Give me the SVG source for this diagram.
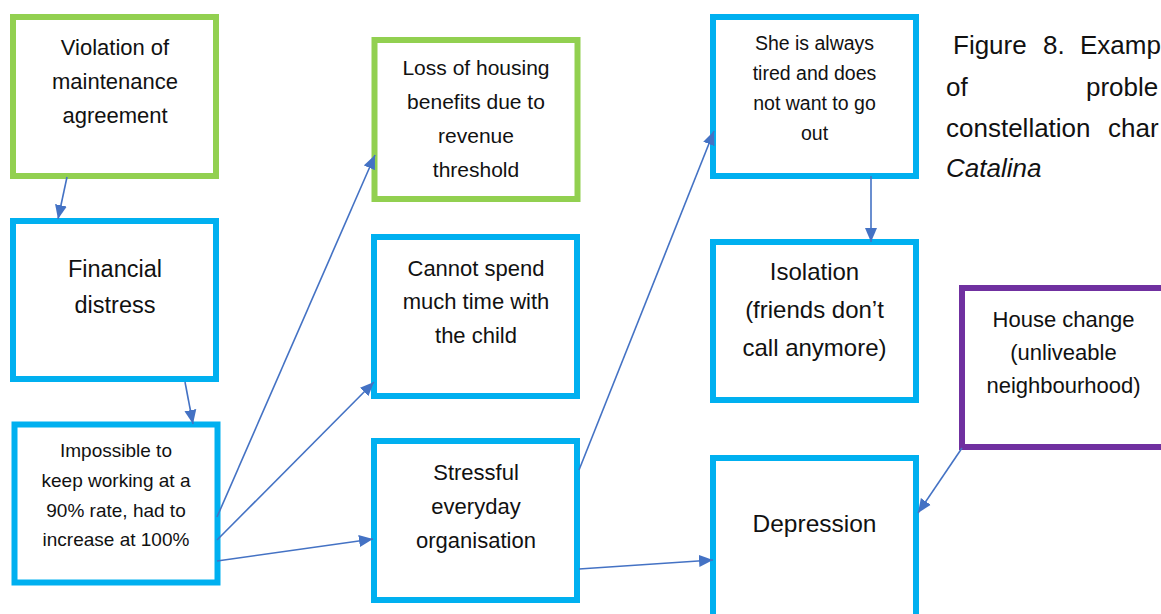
<svg xmlns="http://www.w3.org/2000/svg" width="1161" height="614" viewBox="0 0 1161 614">
<style>
  .box{fill:#fff;stroke-width:6}
  .g{stroke:#92D050}
  .b{stroke:#00B0F0}
  .p{stroke:#7030A0}
  text{font-family:"Liberation Sans",Arial,sans-serif;fill:#111;text-anchor:middle}
  .cap{text-anchor:start;font-size:26px}
  .conn line{stroke:#4472C4;stroke-width:1.6;fill:none;marker-end:url(#ah)}
</style>
<defs>
  <marker id="ah" markerUnits="userSpaceOnUse" markerWidth="15" markerHeight="13" refX="14" refY="6.5" orient="auto">
    <path d="M0,0.5 L14,6.5 L0,12.5 z" fill="#4472C4"/>
  </marker>
</defs>
<rect width="1161" height="614" fill="#fff"/>

<g id="violation">
  <rect class="box g" x="13" y="17" width="203" height="159"/>
  <text font-size="22"><tspan x="115" y="55">Violation of</tspan><tspan x="115" y="89">maintenance</tspan><tspan x="115" y="123">agreement</tspan></text>
</g>
<g id="financial">
  <rect class="box b" x="13" y="221" width="203" height="158"/>
  <text font-size="23.5"><tspan x="115" y="277">Financial</tspan><tspan x="115" y="313">distress</tspan></text>
</g>
<g id="impossible">
  <rect class="box b" x="14.5" y="424.5" width="203" height="158"/>
  <text font-size="19"><tspan x="116" y="457">Impossible to</tspan><tspan x="116" y="487">keep working at a</tspan><tspan x="116" y="517">90% rate, had to</tspan><tspan x="116" y="546">increase at 100%</tspan></text>
</g>
<g id="loss">
  <rect class="box g" x="374.5" y="40" width="203" height="159"/>
  <text font-size="21"><tspan x="476" y="75">Loss of housing</tspan><tspan x="476" y="109">benefits due to</tspan><tspan x="476" y="143">revenue</tspan><tspan x="476" y="177">threshold</tspan></text>
</g>
<g id="cannot">
  <rect class="box b" x="374" y="237" width="203" height="159"/>
  <text font-size="22"><tspan x="476" y="276">Cannot spend</tspan><tspan x="476" y="309">much time with</tspan><tspan x="476" y="343">the child</tspan></text>
</g>
<g id="stressful">
  <rect class="box b" x="374" y="441" width="203" height="159"/>
  <text font-size="22"><tspan x="476" y="480">Stressful</tspan><tspan x="476" y="514">everyday</tspan><tspan x="476" y="548">organisation</tspan></text>
</g>
<g id="tired">
  <rect class="box b" x="713" y="17" width="203" height="159"/>
  <text font-size="19.5"><tspan x="814.5" y="50">She is always</tspan><tspan x="814.5" y="80">tired and does</tspan><tspan x="814.5" y="110">not want to go</tspan><tspan x="814.5" y="140">out</tspan></text>
</g>
<g id="isolation">
  <rect class="box b" x="713" y="242" width="203" height="158"/>
  <text font-size="24"><tspan x="814.5" y="280">Isolation</tspan><tspan x="814.5" y="318">(friends don’t</tspan><tspan x="814.5" y="356">call anymore)</tspan></text>
</g>
<g id="depression">
  <rect class="box b" x="713" y="458" width="203" height="170"/>
  <text font-size="24.5"><tspan x="814.5" y="532">Depression</tspan></text>
</g>
<g id="house">
  <rect class="box p" x="962" y="288" width="210" height="159"/>
  <text font-size="22"><tspan x="1063.5" y="327">House change</tspan><tspan x="1063.5" y="360">(unliveable</tspan><tspan x="1063.5" y="393">neighbourhood)</tspan></text>
</g>

<g id="caption">
  <text class="cap" x="953" y="54">Figure</text>
  <text class="cap" x="1043" y="54">8.</text>
  <text class="cap" x="1080" y="54" font-size="25">Examp</text>
  <text class="cap" x="946" y="96">of</text>
  <text class="cap" x="1086" y="96">proble</text>
  <text class="cap" x="946" y="137">constellation</text>
  <text class="cap" x="1108" y="137">char</text>
  <text class="cap" x="946" y="177" font-style="italic">Catalina</text>
</g>

<g id="connectors" class="conn">
  <line x1="67" y1="177" x2="58" y2="219"/>
  <line x1="185" y1="382" x2="193" y2="424"/>
  <line x1="217" y1="517" x2="375" y2="155"/>
  <line x1="217" y1="540" x2="374" y2="382"/>
  <line x1="217" y1="561" x2="373" y2="539"/>
  <line x1="579" y1="470" x2="714" y2="131"/>
  <line x1="579" y1="569" x2="713" y2="560"/>
  <line x1="871" y1="176" x2="871" y2="242"/>
  <line x1="962" y1="448" x2="918" y2="513"/>
</g>
</svg>
